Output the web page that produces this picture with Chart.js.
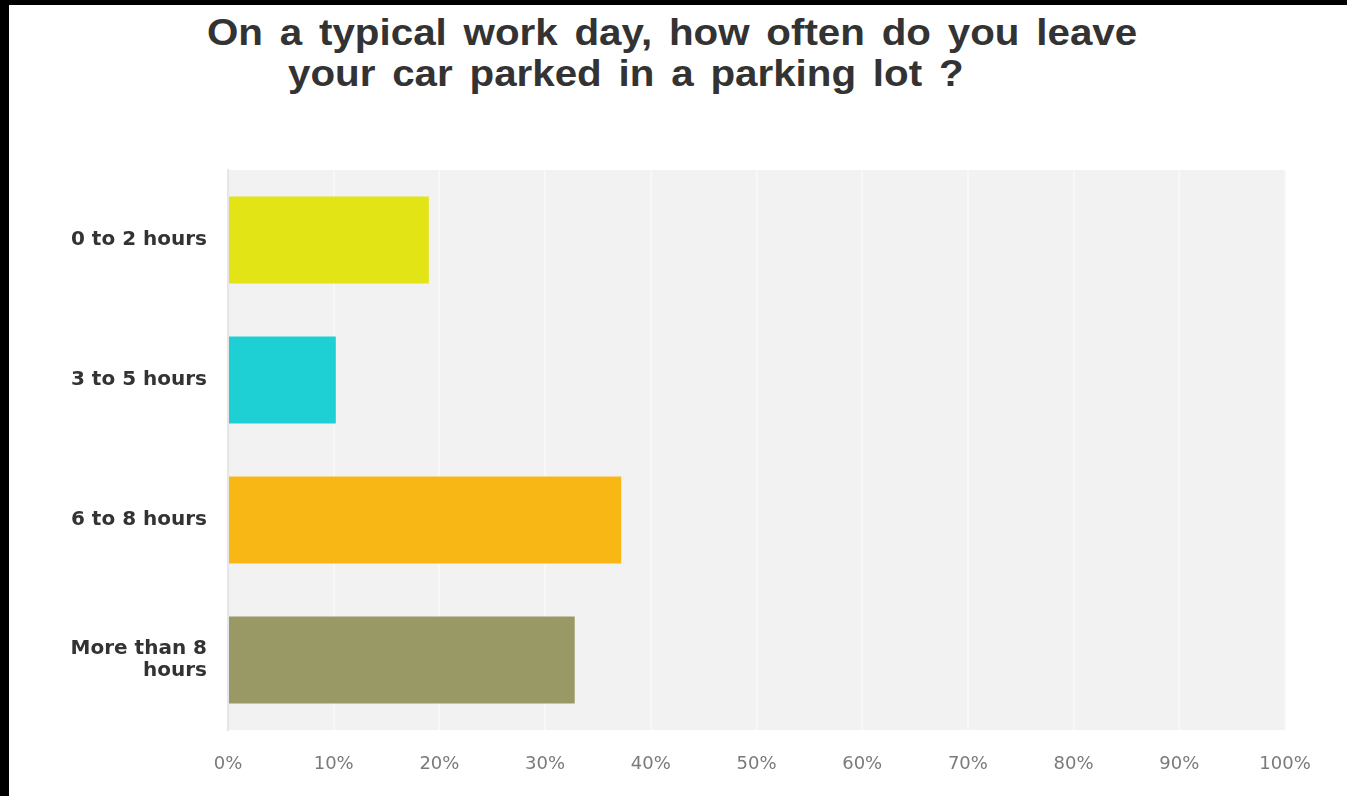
<!DOCTYPE html>
<html lang="en">
<head>
    <meta charset="UTF-8">
    <title>Parking time survey</title>
    <script src="https://cdn.jsdelivr.net/npm/chart.js"></script>
    <style>
        body {
            margin: 0;
            background-color: #ffffff;
            font-family: "Liberation Sans", Arial, sans-serif;
        }
        .frame {
            position: absolute;
            left: 0;
            top: 0;
            width: 1347px;
            height: 796px;
            box-sizing: border-box;
            border-left: 9px solid #000;
            border-top: 5px solid #000;
        }
        .title-line {
            position: absolute;
            font-weight: bold;
            font-size: 36px;
            line-height: 36px;
            color: #333;
            white-space: nowrap;
            word-spacing: 5px;
            transform: scaleX(1.12);
            transform-origin: left top;
        }
        canvas {
            position: absolute;
            left: 0;
            top: 0;
        }
    </style>
</head>
<body>
    <div class="frame"></div>
    <div class="title-line" style="left:207px; top:15px;">On a typical work day, how often do you leave</div>
    <div class="title-line" style="left:288px; top:56px;">your car parked in a parking lot ?</div>
    <canvas id="parkingChart" width="1347" height="796"></canvas>
    <script>
        const categories = ['0 to 2 hours', '3 to 5 hours', '6 to 8 hours', ['More than 8', 'hours']];
        const percentages = [19.0, 10.2, 37.2, 32.8];
        const barColors = ['#e2e416', '#1ed0d4', '#f9b716', '#999966'];

        // grey panel behind the bars
        const panelBackground = {
            id: 'panelBackground',
            beforeDraw(chart) {
                const { ctx, chartArea } = chart;
                ctx.save();
                ctx.fillStyle = '#f2f2f2';
                ctx.fillRect(chartArea.left, chartArea.top, chartArea.right - chartArea.left, chartArea.bottom - chartArea.top);
                ctx.restore();
            }
        };

        const ctx = document.getElementById('parkingChart').getContext('2d');
        new Chart(ctx, {
            type: 'bar',
            data: {
                labels: categories,
                datasets: [{
                    data: percentages,
                    backgroundColor: barColors,
                    borderWidth: 0,
                    categoryPercentage: 1,
                    barPercentage: 0.62
                }]
            },
            options: {
                indexAxis: 'y',
                responsive: false,
                animation: false,
                layout: {
                    padding: { top: 170, right: 62, left: 0, bottom: 0 }
                },
                scales: {
                    x: {
                        min: 0,
                        max: 100,
                        afterFit(scale) { scale.height = 66; },
                        grid: {
                            color: '#f8f8f8',
                            lineWidth: 2,
                            drawTicks: false
                        },
                        border: { display: false },
                        ticks: {
                            stepSize: 10,
                            padding: 24,
                            color: '#7a7a7a',
                            font: { family: '"DejaVu Sans", sans-serif', size: 18 },
                            callback: value => value + '%'
                        }
                    },
                    y: {
                        afterFit(scale) { scale.width = 228; },
                        grid: { display: false },
                        border: { color: '#e6e6e6', width: 2 },
                        ticks: {
                            padding: 13,
                            color: '#333',
                            font: { family: '"DejaVu Sans", sans-serif', size: 20, weight: 'bold', lineHeight: 1.08 }
                        }
                    }
                },
                plugins: {
                    legend: { display: false },
                    tooltip: { enabled: false }
                }
            },
            plugins: [panelBackground]
        });
    </script>
</body>
</html>
